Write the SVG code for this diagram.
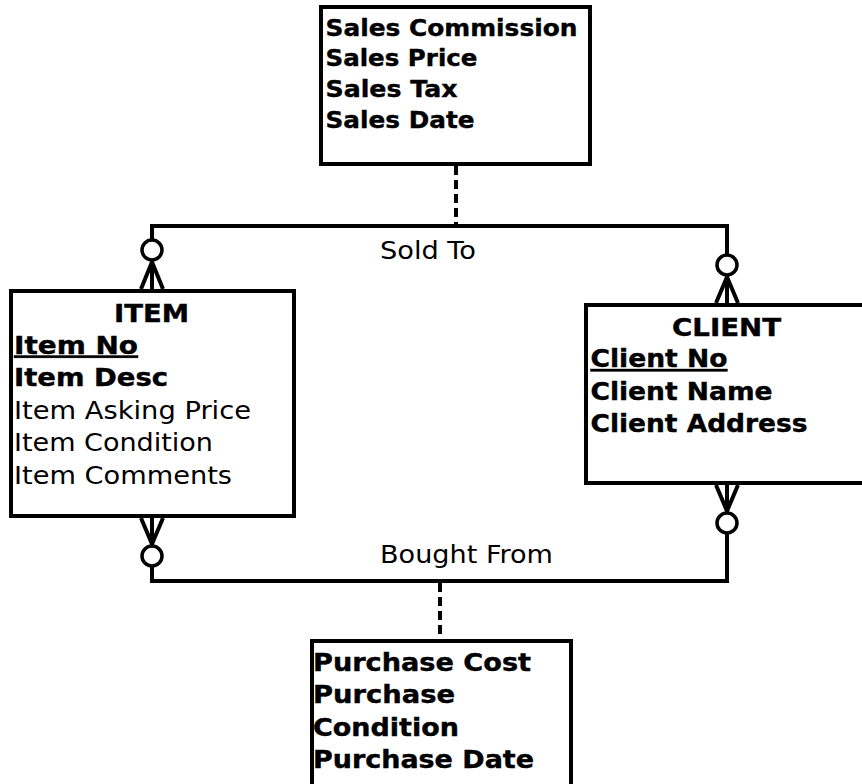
<svg xmlns="http://www.w3.org/2000/svg" width="862" height="784" viewBox="0 0 862 784">
<style>
  .box { fill: #ffffff; stroke: #000000; stroke-width: 4; }
  .ln { fill: none; stroke: #000000; stroke-width: 4; }
  .dash { fill: none; stroke: #000000; stroke-width: 4; stroke-dasharray: 9 5; }
  .circ { fill: #ffffff; stroke: #000000; stroke-width: 3.5; }
  text { font-family: "DejaVu Sans", Verdana, sans-serif; font-size: 24px; fill: #000000; }
  .s { font-size: 23.5px; }
  .b { font-weight: bold; stroke: #000000; stroke-width: 0.4; }
  .u { text-decoration: underline; }
</style>
<rect width="862" height="784" fill="#ffffff"/>

<g id="connectors">
  <path class="dash" d="M456,166 V226"/>
  <path class="ln" d="M152,260 V226 H727 V275"/>
  <text x="380" y="259" textLength="96" lengthAdjust="spacingAndGlyphs">Sold To</text>
  <path class="dash" d="M440,583 V639"/>
  <path class="ln" d="M152,546 V581 H727 V533"/>
  <text x="380" y="563" textLength="173" lengthAdjust="spacingAndGlyphs">Bought From</text>
  <path class="ln" d="M152,260 V289 M152,262 L141,289 M152,262 L163,289"/>
  <circle class="circ" cx="152" cy="250" r="10"/>
  <path class="ln" d="M727,275 V303 M727,277 L716,303 M727,277 L738,303"/>
  <circle class="circ" cx="727" cy="265" r="10"/>
  <path class="ln" d="M152,518 V546 M152,544 L141,518 M152,544 L163,518"/>
  <circle class="circ" cx="152" cy="556" r="10"/>
  <path class="ln" d="M727,485 V513 M727,511 L716,485 M727,511 L738,485"/>
  <circle class="circ" cx="727" cy="523" r="10"/>
</g>

<g id="sales">
  <rect class="box" x="321" y="7" width="269" height="157"/>
  <text class="b s" x="325.5" y="35.5" textLength="252" lengthAdjust="spacingAndGlyphs">Sales Commission</text>
  <text class="b s" x="325.5" y="66" textLength="152" lengthAdjust="spacingAndGlyphs">Sales Price</text>
  <text class="b s" x="325.5" y="97" textLength="132" lengthAdjust="spacingAndGlyphs">Sales Tax</text>
  <text class="b s" x="325.5" y="128" textLength="149" lengthAdjust="spacingAndGlyphs">Sales Date</text>
</g>

<g id="item">
  <rect class="box" x="11" y="291" width="283" height="225"/>
  <text class="b" x="114" y="321.5" textLength="75" lengthAdjust="spacingAndGlyphs">ITEM</text>
  <text class="b u" x="14" y="353.5" textLength="124" lengthAdjust="spacingAndGlyphs">Item No</text>
  <text class="b" x="14" y="386" textLength="154" lengthAdjust="spacingAndGlyphs">Item Desc</text>
  <text x="14" y="418.5" textLength="237" lengthAdjust="spacingAndGlyphs">Item Asking Price</text>
  <text x="14" y="451" textLength="199" lengthAdjust="spacingAndGlyphs">Item Condition</text>
  <text x="14" y="483.5" textLength="218" lengthAdjust="spacingAndGlyphs">Item Comments</text>
</g>

<g id="client">
  <rect class="box" x="586" y="305" width="300" height="178"/>
  <text class="b" x="672" y="336" textLength="109" lengthAdjust="spacingAndGlyphs">CLIENT</text>
  <text class="b u" x="590.5" y="367" textLength="137" lengthAdjust="spacingAndGlyphs">Client No</text>
  <text class="b" x="590.5" y="400" textLength="182" lengthAdjust="spacingAndGlyphs">Client Name</text>
  <text class="b" x="590.5" y="432" textLength="217" lengthAdjust="spacingAndGlyphs">Client Address</text>
</g>

<g id="purchase">
  <rect class="box" x="312" y="641" width="259" height="160"/>
  <text class="b" x="313" y="671" textLength="218" lengthAdjust="spacingAndGlyphs">Purchase Cost</text>
  <text class="b" x="313" y="703" textLength="142" lengthAdjust="spacingAndGlyphs">Purchase</text>
  <text class="b" x="313" y="735.5" textLength="146" lengthAdjust="spacingAndGlyphs">Condition</text>
  <text class="b" x="313" y="768" textLength="221" lengthAdjust="spacingAndGlyphs">Purchase Date</text>
</g>
</svg>
